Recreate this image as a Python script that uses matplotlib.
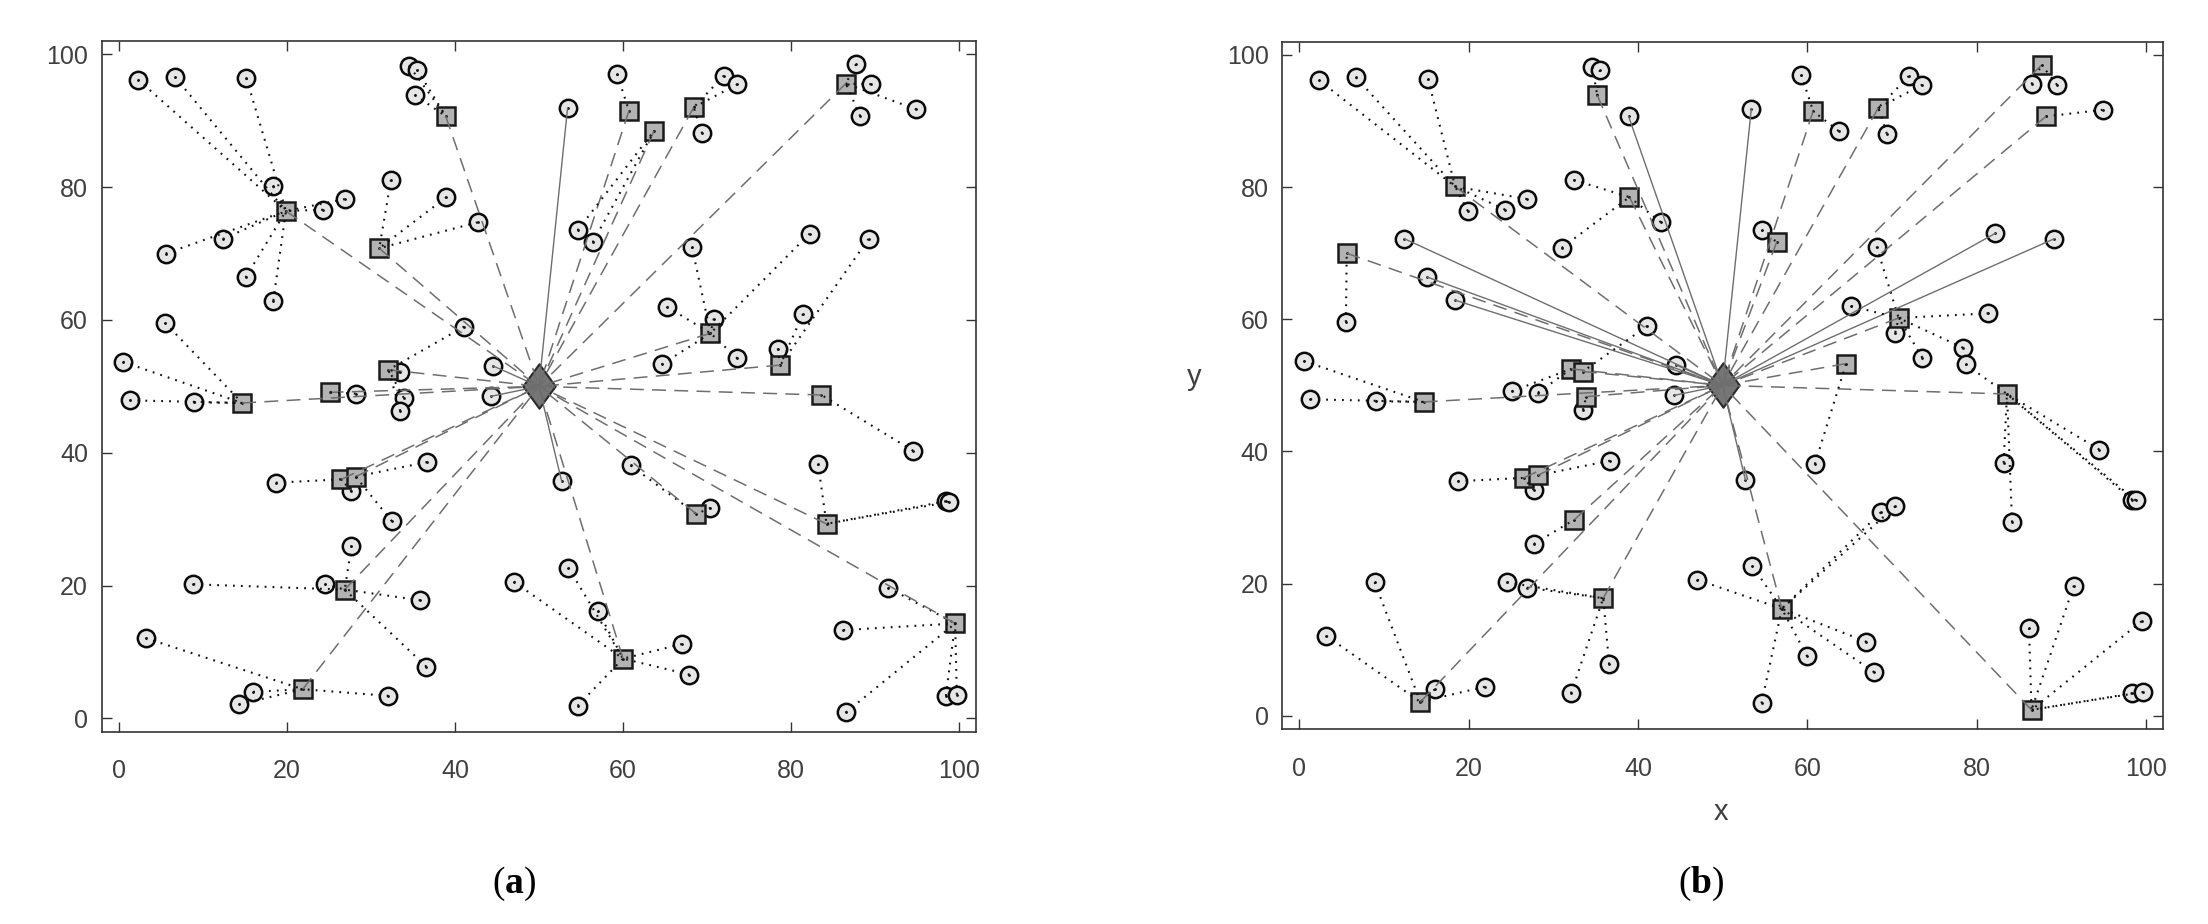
import matplotlib
matplotlib.use("Agg")
import matplotlib.pyplot as plt
from matplotlib.path import Path

plt.rcParams['font.family'] = ['Liberation Sans', 'DejaVu Sans']
plt.rcParams['mathtext.fontset'] = 'custom'
plt.rcParams['mathtext.rm'] = 'Liberation Serif'
plt.rcParams['mathtext.bf'] = 'Liberation Serif:bold'
plt.rcParams['lines.scale_dashes'] = False

# sensor nodes (same field in both panels), numbered 1..99
node_x = [2.3, 6.7, 15.2, 34.6, 35.5, 35.2, 38.9, 18.4, 19.9, 24.3,
          26.9, 32.4, 39.0, 42.7, 31.0, 12.4, 5.6, 15.1, 18.4, 5.5,
          41.1, 0.5, 32.1, 33.5, 44.5, 1.3, 9.0, 14.7, 25.1, 28.2,
          33.9, 33.5, 44.3, 36.7, 18.7, 26.5, 28.2, 27.7, 32.5, 27.7,
          8.9, 24.5, 26.9, 35.9, 47.0, 3.2, 36.6, 21.9, 16.0, 14.3,
          32.1, 59.3, 53.4, 60.7, 63.7, 68.4, 72.0, 73.6, 69.4, 86.5,
          87.7, 89.5, 88.2, 94.9, 54.6, 56.4, 68.2, 82.2, 89.2, 65.2,
          70.8, 70.4, 81.4, 78.4, 78.7, 73.6, 64.6, 83.6, 94.5, 60.9,
          52.7, 68.7, 70.4, 83.2, 84.2, 98.4, 98.8, 53.5, 57.0, 60.0,
          67.0, 67.9, 54.6, 91.5, 99.5, 86.2, 86.5, 98.4, 99.7]
node_y = [96.2, 96.6, 96.4, 98.2, 97.7, 93.9, 90.7, 80.1, 76.4, 76.6,
          78.2, 81.1, 78.5, 74.7, 70.8, 72.2, 70.0, 66.4, 62.9, 59.6,
          59.0, 53.7, 52.5, 52.1, 53.1, 47.9, 47.6, 47.5, 49.1, 48.9,
          48.3, 46.3, 48.5, 38.6, 35.5, 36.0, 36.4, 34.2, 29.7, 26.0,
          20.2, 20.2, 19.4, 17.8, 20.6, 12.1, 7.8, 4.4, 4.0, 2.1,
          3.4, 97.0, 91.9, 91.5, 88.5, 92.0, 96.8, 95.5, 88.1, 95.6,
          98.5, 95.5, 90.7, 91.7, 73.5, 71.7, 71.0, 73.0, 72.2, 62.0,
          60.2, 58.0, 60.9, 55.7, 53.2, 54.2, 53.3, 48.7, 40.3, 38.1,
          35.7, 30.8, 31.7, 38.3, 29.3, 32.7, 32.6, 22.7, 16.2, 9.0,
          11.2, 6.6, 1.9, 19.7, 14.3, 13.3, 0.9, 3.4, 3.6]
bs_x, bs_y = 50, 50

# cluster heads (node numbers) and the head each node reports to (0 = base station)
ch_a = [7, 9, 15, 23, 28, 29, 36, 37, 43, 48, 54, 55, 56, 60, 72, 75, 78, 82, 85, 90, 95]
head_a = [9, 9, 9, 7, 7, 7, 0, 9, 0, 9,
          9, 15, 15, 15, 0, 9, 9, 9, 9, 28,
          23, 28, 0, 23, 0, 28, 28, 0, 0, 29,
          23, 23, 0, 37, 36, 0, 0, 36, 37, 43,
          43, 43, 0, 43, 90, 48, 43, 0, 48, 48,
          48, 54, 0, 0, 0, 0, 56, 56, 56, 0,
          60, 60, 60, 60, 55, 55, 72, 72, 75, 72,
          72, 0, 75, 75, 0, 72, 72, 0, 78, 82,
          0, 0, 82, 85, 0, 85, 85, 90, 90, 0,
          90, 90, 90, 95, 0, 95, 95, 95, 95]

ch_b = [6, 8, 13, 17, 23, 24, 28, 31, 36, 37, 39, 44, 50, 54, 56, 61, 63, 66, 71, 77, 78, 89, 97]
head_b = [8, 8, 8, 6, 6, 0, 0, 0, 8, 8,
          8, 13, 0, 13, 13, 0, 0, 0, 0, 17,
          24, 28, 0, 0, 0, 28, 28, 0, 23, 23,
          0, 31, 0, 37, 36, 0, 0, 36, 0, 39,
          50, 44, 44, 0, 89, 50, 44, 50, 50, 0,
          44, 54, 0, 0, 54, 0, 56, 56, 56, 61,
          0, 61, 0, 63, 66, 0, 71, 0, 0, 71,
          0, 71, 71, 71, 78, 71, 0, 0, 78, 77,
          0, 89, 89, 78, 78, 78, 78, 89, 0, 89,
          89, 89, 89, 97, 97, 97, 0, 97, 97]

ticks = [0, 20, 40, 60, 80, 100]
diamond = Path([(0, 1), (0.73, 0), (0, -1), (-0.73, 0), (0, 1)],
               [Path.MOVETO, Path.LINETO, Path.LINETO, Path.LINETO, Path.CLOSEPOLY])


def draw(ax, ch, head):
    chs = set(ch)
    for i in range(len(node_x)):
        n = i + 1
        x, y = node_x[i], node_y[i]
        if n in chs:
            ax.plot([x, bs_x], [y, bs_y], color='#6e6e6e', lw=1.1,
                    ls=(0, (10, 6)), zorder=3)
        elif head[i] == 0:
            ax.plot([x, bs_x], [y, bs_y], color='#6e6e6e', lw=1.0, zorder=3)
        else:
            h = head[i] - 1
            ax.plot([x, node_x[h]], [y, node_y[h]], color='#111111', lw=1.5,
                    ls=(0, (1.3, 4.4)), zorder=3)
    mx = [node_x[i] for i in range(len(node_x)) if i + 1 not in chs]
    my = [node_y[i] for i in range(len(node_x)) if i + 1 not in chs]
    ax.plot(mx, my, 'o', ms=12.5, mfc='#e6e6e6', mec='#0a0a0a', mew=1.8,
            ls='none', zorder=2)
    ax.plot([node_x[c - 1] for c in ch], [node_y[c - 1] for c in ch], 's',
            ms=12.5, mfc='#b3b3b3', mec='#1a1a1a', mew=1.8, ls='none', zorder=2)
    ax.plot(node_x, node_y, '.', ms=2, color='#111111', ls='none', zorder=2.2)
    ax.plot([bs_x], [bs_y], marker=diamond, ms=32, mfc='#767676', mec='#2a2a2a',
            mew=1.5, ls='none', zorder=2.5)

    ax.set_xlim(-2, 102)
    ax.set_ylim(-2, 102)
    ax.set_xticks(ticks)
    ax.set_yticks(ticks)
    for s in ax.spines.values():
        s.set_color('#333333')
        s.set_linewidth(1.2)
    ax.tick_params(direction='in', length=7, width=1.0, color='#333333',
                   top=True, right=True, labelsize=18, labelcolor='#404040')
    ax.tick_params(axis='x', pad=20)
    ax.tick_params(axis='y', pad=10)


fig = plt.figure(figsize=(22.08, 9.24), dpi=100)
ax_a = fig.add_axes([0.0461, 0.2081, 0.3960, 0.7475])
ax_b = fig.add_axes([0.5808, 0.2110, 0.3987, 0.7438])
draw(ax_a, ch_a, head_a)
draw(ax_b, ch_b, head_b)

fig.text(1721 / 2208, 1 - 812 / 924, 'x', fontsize=21, color='#404040',
         ha='center', va='center')
fig.text(1194 / 2208, 1 - 377 / 924, 'y', fontsize=21, color='#404040',
         ha='center', va='center')
fig.text(514 / 2208, 1 - 884 / 924, r'($\mathbf{a}$)', fontsize=27,
         family='Liberation Serif', ha='center', va='center')
fig.text(1701 / 2208, 1 - 884 / 924, r'($\mathbf{b}$)', fontsize=27,
         family='Liberation Serif', ha='center', va='center')

fig.savefig('out.png', dpi=100)
